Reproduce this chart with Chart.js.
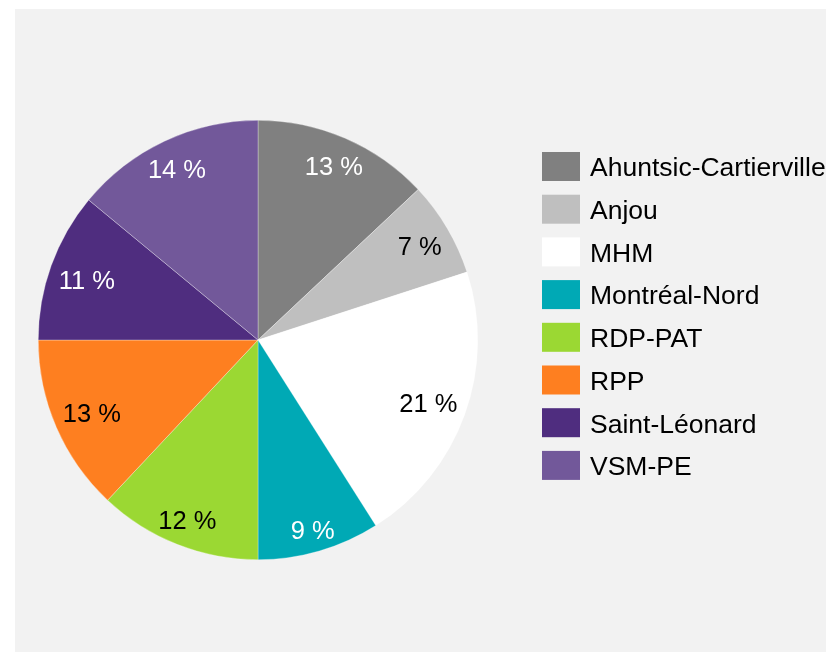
<!DOCTYPE html>
<html>
<head>
<meta charset="utf-8">
<script src="https://cdn.jsdelivr.net/npm/chart.js@4.4.0/dist/chart.umd.min.js"></script>
<style>
    html, body { margin: 0; padding: 0; background: #fff; }
    #wrap { position: absolute; left: 15px; top: 9px; width: 811px; height: 643px; background: #f2f2f2; }
</style>
</head>
<body>
<div id="wrap"><canvas id="pieArrondissements" width="811" height="643"></canvas></div>
<script>
const labels = ['Ahuntsic-Cartierville', 'Anjou', 'MHM', 'Montréal-Nord', 'RDP-PAT', 'RPP', 'Saint-Léonard', 'VSM-PE'];
const shares = [13, 7, 21, 9, 12, 13, 11, 14];
const sliceColors = ['#808080', '#bfbfbf', '#ffffff', '#00a9b5', '#9bd833', '#fe7f20', '#4f2d7f', '#72589a'];
const textColors = ['#fff', '#000', '#000', '#fff', '#000', '#000', '#fff', '#fff'];

const FONT = "'Liberation Sans', Arial, sans-serif";

// percentages written inside each slice, near the outer edge
const sliceLabels = {
    id: 'sliceLabels',
    afterDatasetsDraw(chart) {
        const ctx = chart.ctx;
        const arcs = chart.getDatasetMeta(0).data;
        ctx.save();
        ctx.font = '25.5px ' + FONT;
        ctx.textAlign = 'center';
        ctx.textBaseline = 'middle';
        arcs.forEach(function (arc, i) {
            const p = arc.getProps(['x', 'y', 'startAngle', 'endAngle', 'outerRadius'], true);
            const mid = (p.startAngle + p.endAngle) / 2;
            const text = shares[i] + ' %';
            const hw = ctx.measureText(text).width / 2;
            const hh = 10;
            const dx = Math.cos(mid), dy = Math.sin(mid);
            const r = p.outerRadius - 8 - (hw * Math.abs(dx) + hh * Math.abs(dy));
            ctx.fillStyle = textColors[i];
            ctx.fillText(text, p.x + dx * r, p.y + dy * r + 3.5);
        });
        ctx.restore();
    }
};

// legend drawn on the right side
const sideLegend = {
    id: 'sideLegend',
    afterDraw(chart) {
        const ctx = chart.ctx;
        const left = chart.chartArea.right + 64;
        const top = 143;
        const step = 42.7;
        ctx.save();
        ctx.font = '26.5px ' + FONT;
        ctx.textBaseline = 'middle';
        labels.forEach(function (lab, i) {
            const y = top + i * step;
            ctx.fillStyle = sliceColors[i];
            ctx.fillRect(left, y, 38, 29);
            ctx.fillStyle = '#000';
            ctx.fillText(lab, left + 48, y + 17);
        });
        ctx.restore();
    }
};

new Chart(document.getElementById('pieArrondissements'), {
    type: 'pie',
    data: {
        labels: labels,
        datasets: [{
            data: shares,
            backgroundColor: sliceColors,
            borderColor: 'rgba(255,255,255,0.6)',
            borderWidth: 0.5,
        }]
    },
    options: {
        responsive: false,
        animation: false,
        layout: {
            padding: { left: 23, right: 348, top: 111, bottom: 92 },
        },
        plugins: {
            legend: { display: false },
            tooltip: { enabled: false },
        },
    },
    plugins: [sliceLabels, sideLegend],
});
</script>
</body>
</html>
